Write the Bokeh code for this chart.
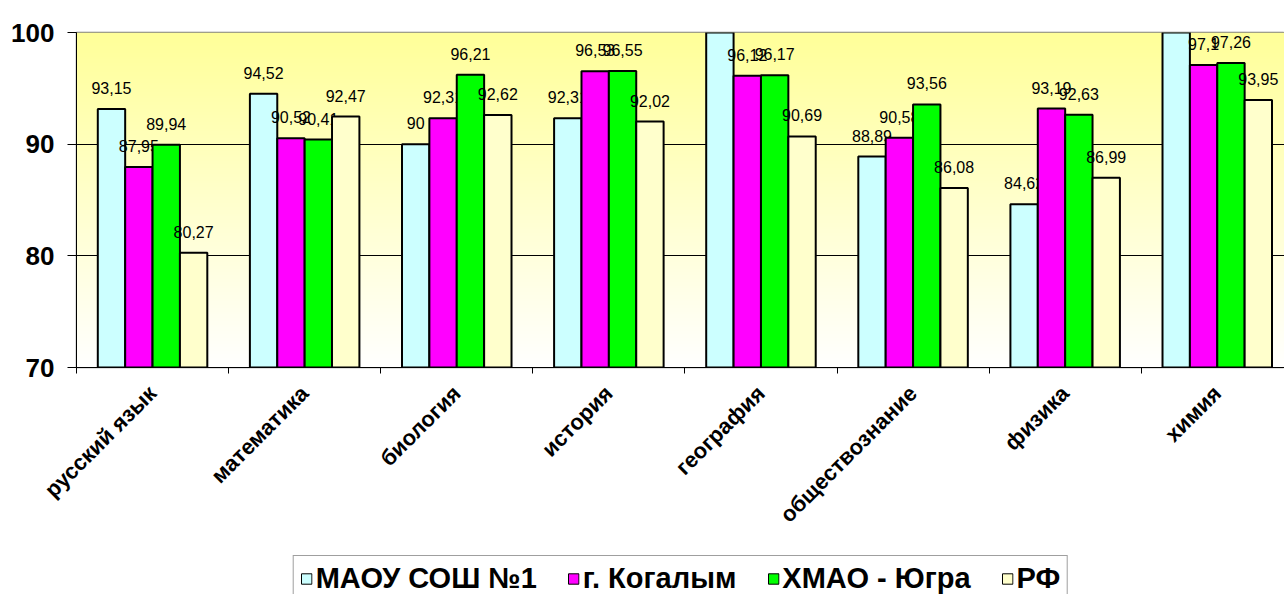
import numpy as np
from bokeh.plotting import figure
from bokeh.layouts import column
from bokeh.models import Range1d, FixedTicker, Legend, LegendItem, ColumnDataSource
from bokeh.core.properties import value
from bokeh.embed import file_html
from bokeh.resources import INLINE

cats = ["русский язык", "математика", "биология", "история", "география",
        "обществознание", "физика", "химия"]
series_names = ["МАОУ СОШ №1", "г. Когалым", "ХМАО - Югра", "РФ"]
maou = [93.15, 94.52, 90, 92.31, 100, 88.89, 84.62, 100]
kogalym = [87.95, 90.52, 92.31, 96.53, 96.12, 90.58, 93.19, 97.1]
hmao = [89.94, 90.41, 96.21, 96.55, 96.17, 93.56, 92.63, 97.26]
rf = [80.27, 92.47, 92.62, 92.02, 90.69, 86.08, 86.99, 93.95]
y_ticks = [70, 80, 90, 100]

series = [maou, kogalym, hmao, rf]
colors = ["#CCFFFF", "#FF00FF", "#00FF00", "#FFFFCC"]
FONT = "Liberation Sans"

W = 1284
p = figure(width=W, height=555, output_backend="svg", toolbar_location=None,
           x_range=Range1d(-0.5, 7.442), y_range=Range1d(70, 100),
           min_border_left=72, min_border_top=32, min_border_right=0,
           min_border_bottom=188)
p.background_fill_color = "white"
p.border_fill_color = "white"
p.outline_line_color = "#808080"
p.outline_line_width = 1.5

# gradient plot-area background
n = 256
t = np.linspace(0, 1, n)  # 0 bottom -> 1 top
img = np.zeros((n, 1), dtype=np.uint32)
view = img.view(dtype=np.uint8).reshape((n, 1, 4))
view[:, 0, 0] = 255
view[:, 0, 1] = 255
view[:, 0, 2] = (255 - 102 * t).astype(np.uint8)
view[:, 0, 3] = 255
p.image_rgba(image=[img], x=-0.5, y=70, dw=8.5, dh=30, level="image")

# grid
p.xgrid.visible = False
p.ygrid.ticker = FixedTicker(ticks=[80, 90])
p.ygrid.grid_line_color = "black"
p.ygrid.grid_line_width = 1

bw = 0.18
for j, (vals, col) in enumerate(zip(series, colors)):
    xs = [i + (j - 1.5) * bw for i in range(len(cats))]
    src = ColumnDataSource(dict(x=xs, top=vals,
                                lab=[f"{v:g}".replace(".", ",") for v in vals]))
    p.vbar(x="x", top="top", bottom=70, width=bw, source=src,
           fill_color=col, line_color="black", line_width=2)
    p.text(x="x", y="top", text="lab", source=src, text_align="center",
           text_baseline="middle", y_offset=-21, text_font=value(FONT),
           text_font_size="16px", text_color="black")

# y axis
ya = p.yaxis[0]
ya.ticker = FixedTicker(ticks=y_ticks)
ya.axis_line_color = "black"
ya.axis_line_width = 1
ya.major_tick_out = 9
ya.major_tick_in = 0
ya.major_tick_line_color = "black"
ya.minor_tick_line_color = None
ya.major_label_text_font = FONT
ya.major_label_text_font_style = "bold"
ya.major_label_text_font_size = "26px"
ya.major_label_text_color = "black"
ya.major_label_standoff = 13

# x axis
xa = p.xaxis[0]
xa.ticker = FixedTicker(ticks=list(range(len(cats))),
                        minor_ticks=[i - 0.5 for i in range(len(cats) + 1)])
xa.major_label_overrides = {i: c for i, c in enumerate(cats)}
xa.major_tick_line_color = None
xa.minor_tick_line_color = "black"
xa.minor_tick_out = 6
xa.minor_tick_in = 0
xa.axis_line_color = "black"
xa.major_label_orientation = np.pi / 4
xa.major_label_text_font = FONT
xa.major_label_text_font_style = "bold"
xa.major_label_text_font_size = "22px"
xa.major_label_text_color = "black"
xa.major_label_standoff = 16

# legend strip
p2 = figure(width=W, height=39, output_backend="svg", toolbar_location=None,
            x_range=Range1d(0, 1), y_range=Range1d(0, 1),
            x_axis_type=None, y_axis_type=None,
            min_border_left=76, min_border_right=0, min_border_top=0,
            min_border_bottom=0)
p2.grid.visible = False
p2.outline_line_color = None
p2.background_fill_color = "white"
p2.border_fill_color = "white"
items = []
for nm, col in zip(series_names, colors):
    # placeholder renderer (outside the visible range) that only feeds the legend swatch
    r = p2.vbar(x=[-1], top=[0], bottom=[-1], width=0.1, fill_color=col,
                line_color="black", line_width=1)
    items.append(LegendItem(label=nm, renderers=[r]))
legend = Legend(items=items, orientation="horizontal", location="top_center")
legend.label_text_font = FONT
legend.label_text_font_style = "bold"
legend.label_text_font_size = "29px"
legend.label_text_color = "black"
legend.label_height = 20
legend.glyph_width = 13
legend.glyph_height = 13
legend.label_standoff = 3
legend.spacing = 30
legend.padding = 6
legend.margin = 0
legend.border_line_color = "#404040"
legend.border_line_width = 1.5
legend.background_fill_color = "white"
legend.background_fill_alpha = 1
p2.add_layout(legend, "center")

layout = column(p, p2, spacing=0)
open("out.html", "w").write(file_html(layout, INLINE))
